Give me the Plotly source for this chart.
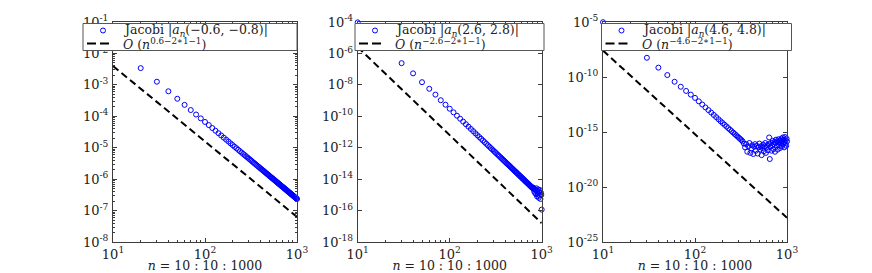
import plotly.graph_objects as go

# ---------------- data ----------------
n = list(range(10, 1001, 10))  # n = 10:10:1000

jacobi_p1 = [
    1.86e-2, 3.41e-3, 1.26e-3, 6.24e-4, 3.61e-4, 2.31e-4, 1.58e-4, 1.14e-4, 8.57e-5, 6.61e-5,
    5.25e-5, 4.23e-5, 3.47e-5, 2.90e-5, 2.45e-5, 2.09e-5, 1.80e-5, 1.57e-5, 1.37e-5, 1.21e-5,
    1.07e-5, 9.60e-6, 8.57e-6, 7.74e-6, 7.00e-6, 6.35e-6, 5.81e-6, 5.31e-6, 4.88e-6, 4.48e-6,
    4.14e-6, 3.83e-6, 3.53e-6, 3.30e-6, 3.07e-6, 2.87e-6, 2.68e-6, 2.51e-6, 2.36e-6, 2.21e-6,
    2.08e-6, 1.97e-6, 1.86e-6, 1.76e-6, 1.66e-6, 1.57e-6, 1.49e-6, 1.42e-6, 1.35e-6, 1.28e-6,
    1.22e-6, 1.16e-6, 1.11e-6, 1.06e-6, 1.02e-6, 9.71e-7, 9.29e-7, 8.93e-7, 8.53e-7, 8.20e-7,
    7.88e-7, 7.58e-7, 7.28e-7, 7.00e-7, 6.73e-7, 6.47e-7, 6.25e-7, 6.01e-7, 5.81e-7, 5.62e-7,
    5.43e-7, 5.25e-7, 5.08e-7, 4.91e-7, 4.75e-7, 4.59e-7, 4.46e-7, 4.31e-7, 4.17e-7, 4.06e-7,
    3.94e-7, 3.81e-7, 3.70e-7, 3.60e-7, 3.50e-7, 3.40e-7, 3.29e-7, 3.21e-7, 3.13e-7, 3.04e-7,
    2.95e-7, 2.87e-7, 2.81e-7, 2.73e-7, 2.65e-7, 2.59e-7, 2.52e-7, 2.47e-7, 2.40e-7, 2.34e-7,
]

jacobi_p2 = [
    9.5e-5, 2.5e-6, 2.4e-7, 5.4e-8, 1.48e-8, 5.6e-9, 2.4e-9, 1.05e-9, 5.47e-10, 3.02e-10,
    1.78e-10, 1.09e-10, 6.95e-11, 4.59e-11, 3.12e-11, 2.18e-11, 1.56e-11, 1.13e-11, 8.28e-12, 6.22e-12,
    4.75e-12, 3.67e-12, 2.84e-12, 2.25e-12, 1.78e-12, 1.43e-12, 1.16e-12, 9.48e-13, 7.82e-13, 6.44e-13,
    5.37e-13, 4.49e-13, 3.75e-13, 3.21e-13, 2.72e-13, 2.32e-13, 1.99e-13, 1.71e-13, 1.48e-13, 1.29e-13,
    1.11e-13, 9.79e-14, 8.61e-14, 7.57e-14, 6.65e-14, 5.85e-14, 5.21e-14, 4.63e-14, 4.13e-14, 3.68e-14,
    3.27e-14, 2.95e-14, 2.67e-14, 2.40e-14, 2.17e-14, 1.95e-14, 1.76e-14, 1.61e-14, 1.45e-14, 1.33e-14,
    1.21e-14, 1.11e-14, 1.01e-14, 9.25e-15, 8.45e-15, 7.73e-15, 7.14e-15, 6.53e-15, 6.05e-15, 5.60e-15,
    5.18e-15, 4.80e-15, 4.44e-15, 4.11e-15, 3.80e-15, 3.52e-15, 3.30e-15, 3.05e-15, 2.82e-15, 2.65e-15,
    2.9e-15, 2.3e-15, 1.6e-15, 2.4e-15, 1.3e-15, 2.0e-15, 1.1e-15, 2.6e-15, 8.0e-16, 1.7e-15,
    1.2e-15, 2.2e-15, 6.5e-16, 1.5e-15, 9.0e-16, 2.0e-15, 5.5e-16, 1.4e-15, 1.0e-15, 1.15e-16,
]

jacobi_p3 = [
    9.6e-6, 7.9e-8, 5.6e-9, 7.1e-10, 1.5e-10, 3.7e-11, 1.3e-11, 5.4e-12, 2.5e-12, 1.26e-12,
    6.14e-13, 3.16e-13, 1.71e-13, 9.77e-14, 5.78e-14, 3.55e-14, 2.25e-14, 1.45e-14, 9.55e-15, 6.49e-15,
    4.50e-15, 3.17e-15, 2.23e-15, 1.63e-15, 1.19e-15, 8.83e-16, 6.67e-16, 5.05e-16, 3.88e-16, 2.99e-16,
    2.33e-16, 1.83e-16, 1.41e-16, 8.9e-17, 4.0e-17, 7.9e-17, 1.6e-17, 5.0e-17, 1.0e-16, 1.26e-17,
    3.2e-17, 6.3e-17, 1.0e-17, 4.5e-17, 7.9e-17, 2.0e-17, 5.6e-17, 1.1e-17, 4.0e-17, 8.9e-17,
    2.5e-17, 5.0e-17, 7.9e-18, 3.5e-17, 7.1e-17, 1.8e-17, 5.0e-17, 1.0e-16, 1.26e-17, 4.0e-17,
    6.3e-17, 2.2e-17, 7.9e-17, 3.2e-16, 3.5e-18, 4.5e-17, 1.0e-16, 2.0e-17, 6.3e-17, 1.6e-16,
    2.8e-17, 7.9e-17, 1.26e-16, 1.6e-17, 1.0e-16, 2.0e-16, 5.0e-17, 1.41e-16, 2.5e-17, 1.12e-16,
    2.2e-16, 6.3e-17, 1.6e-16, 3.5e-17, 1.8e-16, 1.0e-16, 2.5e-16, 5.0e-17, 1.41e-16, 3.2e-16,
    7.9e-17, 2.0e-16, 4.0e-17, 1.26e-16, 3.5e-16, 1.0e-16, 1.8e-16, 5.6e-17, 2.5e-16, 1.41e-16,
]

# reference O(n^p) lines (end points at n = 10 and n = 1000)
ref_n = [10, 1000]
ref_p1 = [3.98e-3, 6.31e-8]     # n^(0.6-2*1-1)
ref_p2 = [2.51e-6, 1.58e-17]    # n^(-2.6-2*1-1)
ref_p3 = [2.51e-8, 1.58e-23]    # n^(-4.6-2*1-1)

legend_jacobi = [
    "Jacobi |<i>a</i><sub><i>n</i></sub>(−0.6, −0.8)|",
    "Jacobi |<i>a</i><sub><i>n</i></sub>(2.6, 2.8)|",
    "Jacobi |<i>a</i><sub><i>n</i></sub>(4.6, 4.8)|",
]
legend_order = [
    "<i>O</i> (<i>n</i><sup>0.6−2∗1−1</sup>)",
    "<i>O</i> (<i>n</i><sup>−2.6−2∗1−1</sup>)",
    "<i>O</i> (<i>n</i><sup>−4.6−2∗1−1</sup>)",
]

y_exponents = [list(range(-8, 0)), list(range(-18, -3, 2)), list(range(-25, -4, 5))]
y_ranges = [[-8, -1], [-18, -4], [-25, -5]]
x_tick_vals = [10, 100, 1000]
x_tick_text = ["10<sup>1</sup>", "10<sup>2</sup>", "10<sup>3</sup>"]
x_title = "<i>n</i> = 10 : 10 : 1000"

series = [jacobi_p1, jacobi_p2, jacobi_p3]
refs = [ref_p1, ref_p2, ref_p3]

# ---------------- layout helpers ----------------
W, H = 872, 273
def px(x):
    return x / W
def py(y):
    return 1 - y / H

plot_left = [113, 357.7, 603]
plot_w = 184
plot_top, plot_bot = 22, 242
leg_left = [83, 355, 601.5]
leg_right = [297, 544, 791.5]
leg_top, leg_bot = 23.5, 50.5
row1, row2 = 30.5, 43.5

AX_COLOR = "#3c3c3c"
TXT_COLOR = "#222222"
SERIF = "DejaVu Serif, Liberation Serif, serif"

fig = go.Figure()
shapes = []
annotations = []
layout_axes = {}

x_minor = [m * 10 for m in range(2, 10)] + [m * 100 for m in range(2, 10)]

for i in range(3):
    sfx = "" if i == 0 else str(i + 1)
    xa, ya = "x" + sfx, "y" + sfx
    fig.add_trace(go.Scatter(
        x=n, y=series[i], mode="markers", xaxis=xa, yaxis=ya,
        name=legend_jacobi[i], cliponaxis=False, showlegend=False,
        marker=dict(symbol="circle-open", size=5, color="#0000ff", line=dict(width=1)),
    ))
    fig.add_trace(go.Scatter(
        x=ref_n, y=refs[i], mode="lines", xaxis=xa, yaxis=ya,
        name=legend_order[i], showlegend=False,
        line=dict(color="black", width=2, dash="7px,4px"),
    ))

    yminor = []
    if i == 0:
        yminor = [m * 10.0 ** e for e in range(-8, -1) for m in range(2, 10)]

    layout_axes["xaxis" + sfx] = dict(
        type="log", range=[1, 3], domain=[px(plot_left[i]), px(plot_left[i] + plot_w)],
        anchor=ya, showline=True, linecolor=AX_COLOR, linewidth=1, mirror="ticks",
        ticks="inside", ticklen=4, tickcolor=AX_COLOR, tickwidth=1,
        tickmode="array", tickvals=x_tick_vals, ticktext=x_tick_text,
        tickfont=dict(family=SERIF, size=13, color=TXT_COLOR),
        minor=dict(tickmode="array", tickvals=x_minor, ticks="inside", ticklen=2,
                   tickcolor=AX_COLOR, showgrid=False),
        showgrid=False, zeroline=False, automargin=False,
        title=dict(text=x_title, font=dict(family=SERIF, size=12.5, color=TXT_COLOR), standoff=4),
    )
    ydict = dict(
        type="log", range=y_ranges[i], domain=[py(plot_bot), py(plot_top)],
        anchor=xa, showline=True, linecolor=AX_COLOR, linewidth=1, mirror="ticks",
        ticks="inside", ticklen=4, tickcolor=AX_COLOR, tickwidth=1,
        tickmode="array", tickvals=[10.0 ** e for e in y_exponents[i]],
        ticktext=["10<sup>%d</sup>" % e for e in y_exponents[i]],
        tickfont=dict(family=SERIF, size=13, color=TXT_COLOR), ticklabelstandoff=1,
        showgrid=False, zeroline=False, automargin=False,
    )
    if yminor:
        ydict["minor"] = dict(tickmode="array", tickvals=yminor, ticks="inside", ticklen=2,
                              tickcolor=AX_COLOR, showgrid=False)
    layout_axes["yaxis" + sfx] = ydict

    # ----- legend box (drawn manually to match the compact boxed legend) -----
    L, R = leg_left[i], leg_right[i]
    shapes.append(dict(type="rect", xref="paper", yref="paper",
                       x0=px(L), x1=px(R), y0=py(leg_bot), y1=py(leg_top),
                       fillcolor="white", line=dict(color="#555555", width=1), layer="above"))
    shapes.append(dict(type="circle", xref="paper", yref="paper",
                       x0=px(L + 17.5), x1=px(L + 22.5), y0=py(row1 + 2.5), y1=py(row1 - 2.5),
                       line=dict(color="#0000ff", width=1), layer="above"))
    shapes.append(dict(type="line", xref="paper", yref="paper",
                       x0=px(L + 4), x1=px(L + 27), y0=py(row2), y1=py(row2),
                       line=dict(color="black", width=2, dash="9px,4px"), layer="above"))
    annotations.append(dict(text=legend_jacobi[i], xref="paper", yref="paper",
                            x=px(L + 38), y=py(row1), xanchor="left", yanchor="middle",
                            showarrow=False, font=dict(family=SERIF, size=12.5, color=TXT_COLOR)))
    annotations.append(dict(text=legend_order[i], xref="paper", yref="paper",
                            x=px(L + 38), y=py(row2), xanchor="left", yanchor="middle",
                            showarrow=False, font=dict(family=SERIF, size=12.5, color=TXT_COLOR)))

fig.update_layout(
    width=W, height=H,
    margin=dict(l=0, r=0, t=0, b=0, pad=0),
    paper_bgcolor="white", plot_bgcolor="white",
    showlegend=False,
    shapes=shapes, annotations=annotations,
    **layout_axes,
)

# remove the browser's default 8px page margin so the 872x273 figure fills the window
fig.write_html("out.html", config={"displayModeBar": False},
               post_script="document.body.style.margin='0px'; document.body.style.overflow='hidden';")
